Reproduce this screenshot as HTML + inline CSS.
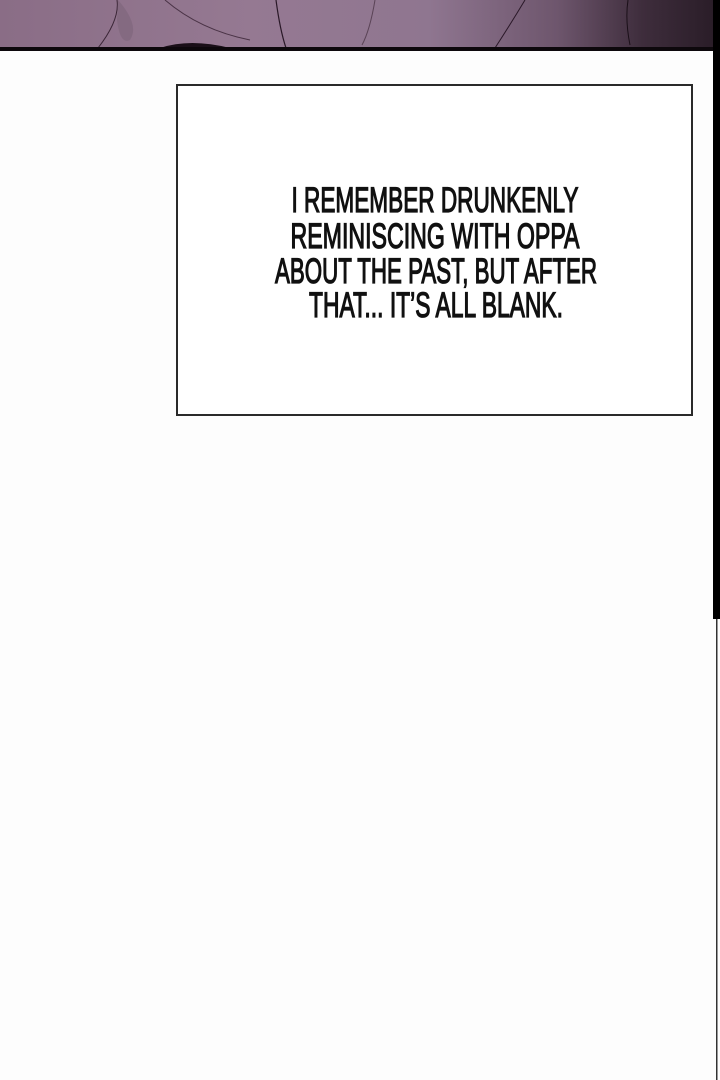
<!DOCTYPE html>
<html><head><meta charset="utf-8"><style>
html,body{margin:0;padding:0;background:#fdfdfd;}
body{width:720px;height:1080px;position:relative;overflow:hidden;}
</style></head><body>
<svg width="720" height="1080" style="position:absolute;left:0;top:0">
<defs>
<linearGradient id="g" x1="0" x2="1" y1="0" y2="0">
<stop offset="0" stop-color="#8a6d86"/>
<stop offset="0.35" stop-color="#957992"/>
<stop offset="0.6" stop-color="#8f7690"/>
<stop offset="0.78" stop-color="#6e566d"/>
<stop offset="0.9" stop-color="#3e2d3c"/>
<stop offset="1" stop-color="#2a1d28"/>
</linearGradient>
</defs>
<rect x="0" y="0" width="714" height="48" fill="url(#g)"/>
<path d="M117 0 Q120 20 98 48" stroke="#3a2536" stroke-width="1" fill="none"/>
<path d="M118 0 Q140 25 130 40 Q120 45 117 20 Z" fill="#7d6479" opacity="0.6"/>
<path d="M165 0 Q200 30 250 40" stroke="#4a3346" stroke-width="1" fill="none"/>
<path d="M276 0 Q280 30 286 48" stroke="#2a1828" stroke-width="1.2" fill="none"/>
<path d="M375 0 Q370 30 362 45" stroke="#5a4356" stroke-width="1" fill="none"/>
<path d="M525 0 Q510 25 495 48" stroke="#2a1828" stroke-width="1" fill="none"/>
<path d="M628 0 Q625 20 630 45" stroke="#1a0f18" stroke-width="1" fill="none"/>
<path d="M160 48 Q190 38 230 48 Z" fill="#1a0f18"/>
<rect x="0" y="47" width="714" height="4" fill="#0d080c"/>
<rect x="713" y="0" width="7" height="619" fill="#000"/>
<rect x="716" y="619" width="1.5" height="461" fill="#333"/>
<rect x="177" y="85" width="515" height="330" fill="#fff" stroke="#2a2a2a" stroke-width="2"/>
<g font-family="Liberation Sans, sans-serif" font-size="35" fill="#111" stroke="#111" stroke-width="1.3" text-anchor="middle">
<text x="435" y="212" textLength="287" lengthAdjust="spacingAndGlyphs">I REMEMBER DRUNKENLY</text>
<text x="435" y="248" textLength="289" lengthAdjust="spacingAndGlyphs">REMINISCING WITH OPPA</text>
<text x="436" y="283" textLength="322" lengthAdjust="spacingAndGlyphs">ABOUT THE PAST, BUT AFTER</text>
<text x="436" y="317" textLength="254" lengthAdjust="spacingAndGlyphs">THAT... IT’S ALL BLANK.</text>
</g>
</svg>
</body></html>
